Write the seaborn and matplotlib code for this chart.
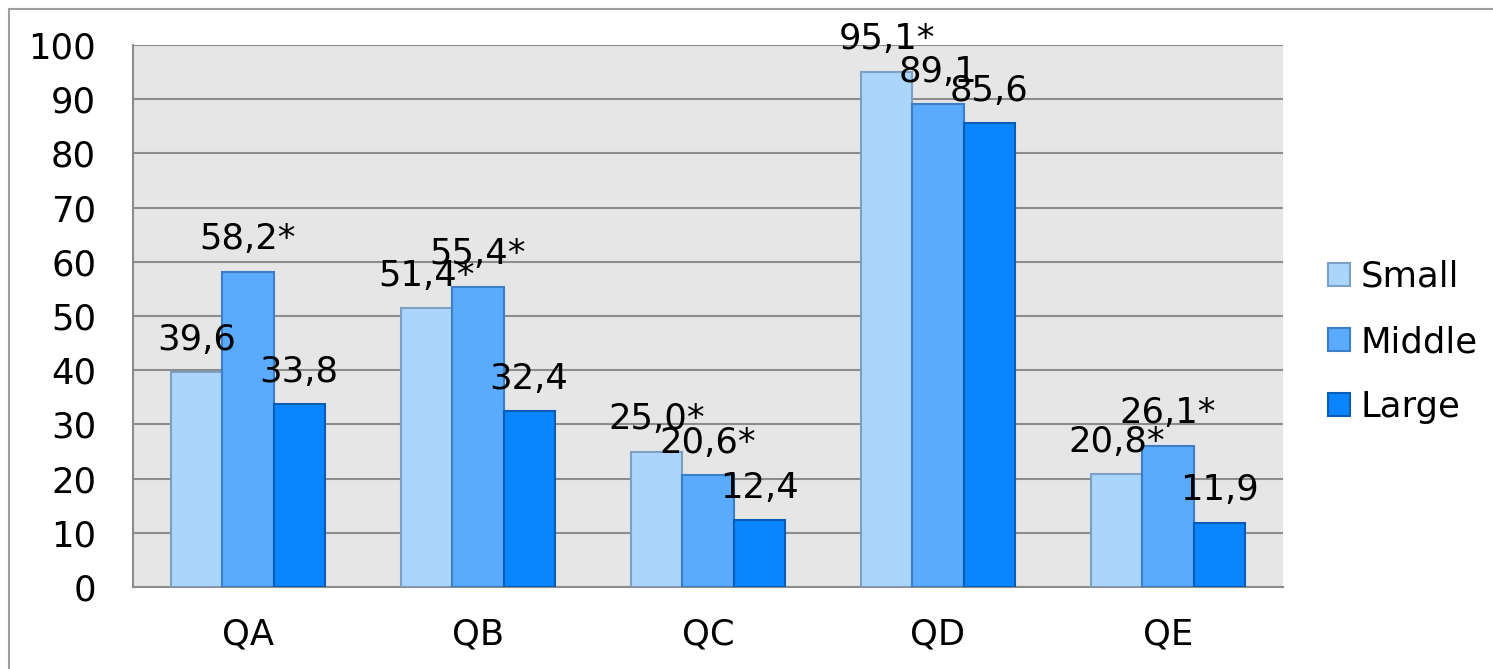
import pandas as pd
import numpy as np
import matplotlib
matplotlib.use("Agg")
import matplotlib.pyplot as plt
import seaborn as sns
from matplotlib.patches import Rectangle

# data
questions = ["QA", "QB", "QC", "QD", "QE"]
sizes = ["Small", "Middle", "Large"]
small = [39.6, 51.4, 25.0, 95.1, 20.8]
middle = [58.2, 55.4, 20.6, 89.1, 26.1]
large = [33.8, 32.4, 12.4, 85.6, 11.9]
# significance marks (asterisk after label)
small_sig = [False, True, True, True, True]
middle_sig = [True, True, True, False, True]
large_sig = [False, False, False, False, False]

fills = ["#acd5fe", "#5aabfe", "#0b85fe"]
edges = ["#7c9fc4", "#3c7fc6", "#0a5cb4"]

df = pd.DataFrame({
    "question": questions * 3,
    "size": sum([[s] * len(questions) for s in sizes], []),
    "value": small + middle + large,
})
sig = {"Small": small_sig, "Middle": middle_sig, "Large": large_sig}
vals = {"Small": small, "Middle": middle, "Large": large}

sns.set_style("white")
plt.rcParams["font.family"] = ["DejaVu Sans"]
plt.rcParams["text.color"] = "black"
plt.rcParams["xtick.color"] = "black"
plt.rcParams["ytick.color"] = "black"

FS = 25.5

fig = plt.figure(figsize=(14.93, 6.69), dpi=100)
ax = fig.add_axes([133 / 1493, 1 - 587 / 669, 1150 / 1493, 542 / 669])
ax.set_facecolor("#e6e6e6")

sns.barplot(data=df, x="question", y="value", hue="size", hue_order=sizes,
            palette=fills, saturation=1, width=0.667, gap=0, legend=False,
            ax=ax, zorder=3)

for i, cont in enumerate(ax.containers):
    for p in cont:
        p.set_edgecolor(edges[i])
        p.set_linewidth(1.5)
    name = sizes[i]
    labels = [f"{v:.1f}".replace(".", ",") + ("*" if s else "")
              for v, s in zip(vals[name], sig[name])]
    ax.bar_label(cont, labels=labels, padding=11, fontsize=FS, color="black", zorder=5)

ax.set_ylim(0, 100)
ax.set_xlim(-0.5, 4.5)
ax.set_yticks(np.arange(0, 101, 10))
ax.yaxis.grid(True, color="#8c8c8c", linewidth=1.5, zorder=0)
ax.set_axisbelow(True)
ax.set_xlabel("")
ax.set_ylabel("")

for s in ["top", "right"]:
    ax.spines[s].set_visible(False)
for s in ["left", "bottom"]:
    ax.spines[s].set_color("#8c8c8c")
    ax.spines[s].set_linewidth(1.5)

ax.tick_params(axis="y", length=9.5, width=1.5, color="#8c8c8c", pad=17,
               labelsize=FS, labelcolor="black")
ax.tick_params(axis="x", which="major", length=0, pad=22, labelsize=FS,
               labelcolor="black")
ax.set_xticks(np.arange(-0.5, 5, 1), minor=True)
ax.tick_params(axis="x", which="minor", length=9, width=1.5, color="#8c8c8c")

handles = [Rectangle((0, 0), 1, 1, facecolor=fills[i], edgecolor=edges[i], linewidth=1.5)
           for i in range(3)]
fig.legend(handles, sizes, loc="center left", bbox_to_anchor=(1328 / 1493, 1 - 342 / 669),
           frameon=False, fontsize=FS, handlelength=0.62, handleheight=0.62,
           handletextpad=0.3, labelspacing=0.88, borderpad=0, borderaxespad=0)

# outer chart frame
fig.patches.append(Rectangle((9 / 1493, -0.1), 1.2, 1.1 - 9 / 669, transform=fig.transFigure,
                             fill=False, edgecolor="#a0a0a0", linewidth=1.5))

fig.savefig("out.png", dpi=100)
